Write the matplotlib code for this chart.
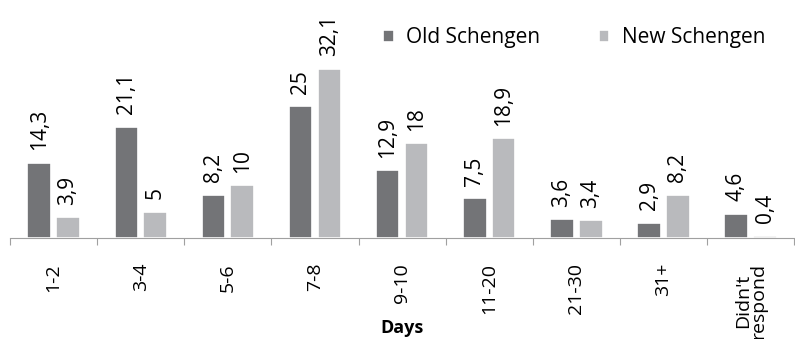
import matplotlib.pyplot as plt
import numpy as np

plt.rcParams['font.family'] = ['Open Sans', 'DejaVu Sans']

categories = ["1-2", "3-4", "5-6", "7-8", "9-10", "11-20", "21-30", "31+", "Didn't\nrespond"]
old_vals = [14.3, 21.1, 8.2, 25, 12.9, 7.5, 3.6, 2.9, 4.6]
new_vals = [3.9, 5, 10, 32.1, 18, 18.9, 3.4, 8.2, 0.4]
old_color = "#737477"
new_color = "#b9babd"


def fmt(v):
    s = ("%g" % v).replace(".", ",")
    return s


fig = plt.figure(figsize=(7.95, 3.39), dpi=100)
ax = fig.add_axes([10 / 795, 0.298, 0.999 - 10 / 795, 0.544])

x = np.arange(len(categories))
w = 0.27
off = 0.165
ax.bar(x - off, old_vals, w, color=old_color, edgecolor="white", linewidth=1.2, label="Old Schengen")
ax.bar(x + off, new_vals, w, color=new_color, edgecolor="white", linewidth=1.2, label="New Schengen")

for xi, v in zip(x, old_vals):
    ax.annotate(fmt(v), (xi - off, v), xytext=(0, 9), textcoords="offset points",
                rotation=90, ha="center", va="bottom", fontsize=15)
for xi, v in zip(x, new_vals):
    ax.annotate(fmt(v), (xi + off, v), xytext=(0, 9), textcoords="offset points",
                rotation=90, ha="center", va="bottom", fontsize=15)

ax.set_xlim(-0.5, len(categories) - 0.5)
ax.set_ylim(0, 35)
ax.set_yticks([])
for s in ["top", "right", "left"]:
    ax.spines[s].set_visible(False)
ax.spines["bottom"].set_color("#a0a0a0")

ax.set_xticks(np.arange(len(categories) + 1) - 0.5, minor=False)
ax.set_xticklabels([])
ax.tick_params(axis="x", which="major", length=5, color="#a0a0a0")
ax.set_xticks(x, minor=True)
ax.set_xticklabels(categories, minor=True, rotation=90, fontsize=14, linespacing=0.85)
ax.tick_params(axis="x", which="minor", length=0, pad=18)

ax.set_xlabel("Days", fontsize=13, fontweight="bold", labelpad=0)
ax.xaxis.set_label_coords(0.5, -0.44)

ax.legend(loc="center left", bbox_to_anchor=(0.476, 1.085), ncol=2, frameon=False, fontsize=15,
          handlelength=0.5, handleheight=0.5, handletextpad=0.6, columnspacing=2.8,
          borderpad=0, borderaxespad=0)

fig.savefig("out.png", dpi=100)
